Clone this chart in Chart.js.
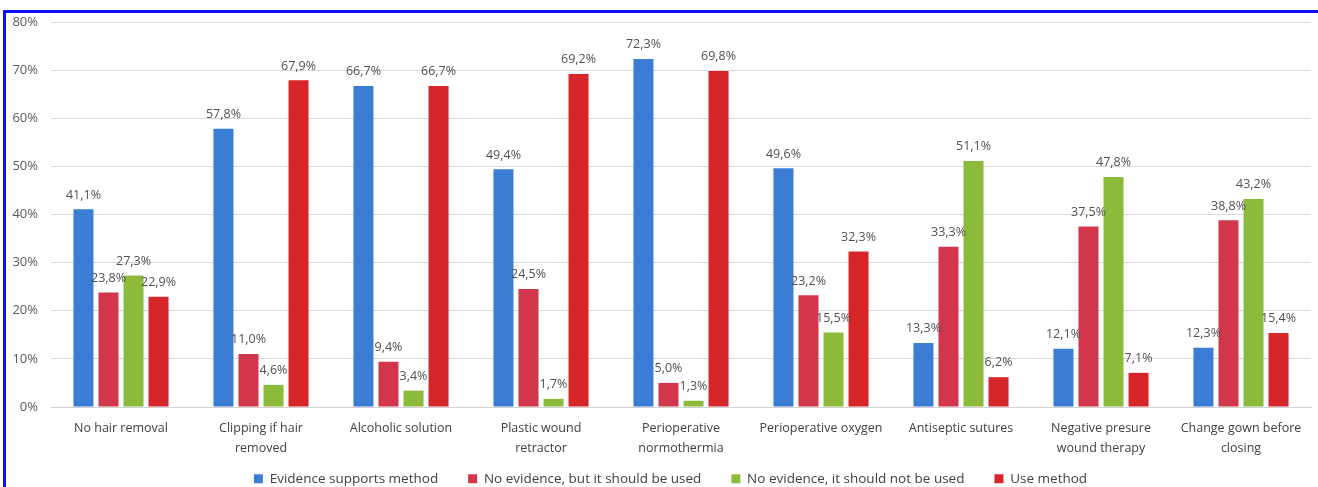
<!DOCTYPE html>
<html>
<head>
<meta charset="utf-8">
<script src="https://cdn.jsdelivr.net/npm/chart.js@4.4.0/dist/chart.umd.min.js"></script>
<style>
  html, body { margin: 0; padding: 0; background: #ffffff; }
  #frame { position: absolute; left: 3px; top: 10px; width: 1312px; height: 480px;
           border-left: 3px solid #1010ff; border-top: 3px solid #1010ff; border-right: 1px solid #b0b0ff; }
  #wrap { position: absolute; left: 0; top: 0; width: 1318px; height: 487px; }
</style>
</head>
<body>
<div id="frame"></div>
<div id="wrap"><canvas id="c" width="1318" height="487"></canvas></div>
<script>
const categories = [
  "No hair removal",
  ["Clipping if hair", "removed"],
  "Alcoholic solution",
  ["Plastic wound", "retractor"],
  ["Perioperative", "normothermia"],
  "Perioperative oxygen",
  "Antiseptic sutures",
  ["Negative presure", "wound therapy"],
  ["Change gown before", "closing"]
];
const seriesNames = [
  "Evidence supports method",
  "No evidence, but it should be used",
  "No evidence, it should not be used",
  "Use method"
];
const evidenceSupports = [41.1, 57.8, 66.7, 49.4, 72.3, 49.6, 13.3, 12.1, 12.3];
const noEvidenceUse = [23.8, 11.0, 9.4, 24.5, 5.0, 23.2, 33.3, 37.5, 38.8];
const noEvidenceNotUse = [27.3, 4.6, 3.4, 1.7, 1.3, 15.5, 51.1, 47.8, 43.2];
const useMethod = [22.9, 67.9, 66.7, 69.2, 69.8, 32.3, 6.2, 7.1, 15.4];
const yTicks = [0, 10, 20, 30, 40, 50, 60, 70, 80];

const colors = ["#3b7dd4", "#d2364b", "#8cbb3c", "#d6262a"];
const FONT = "'Open Sans', sans-serif";

const labelPlugin = {
  id: 'valueLabels',
  afterDatasetsDraw(chart) {
    const ctx = chart.ctx;
    ctx.save();
    ctx.font = "12.5px " + FONT;
    ctx.fillStyle = "#505050";
    ctx.textAlign = "center";
    ctx.textBaseline = "bottom";
    chart.data.datasets.forEach((ds, i) => {
      const meta = chart.getDatasetMeta(i);
      meta.data.forEach((bar, j) => {
        const v = ds.data[j];
        const txt = v.toFixed(1).replace('.', ',') + '%';
        ctx.fillText(txt, bar.x, bar.y - 8);
      });
    });
    ctx.restore();
  }
};

// Place the legend row near the bottom edge and a little right; let x labels extend.
const layoutTweak = {
  id: 'layoutTweak',
  afterLayout(chart) {
    const lg = chart.legend;
    if (lg) {
      const h = lg.bottom - lg.top;
      lg.top = 442; lg.bottom = 442 + h;
      lg.left += 15; lg.right += 15;
    }
    if (chart.scales.x) chart.scales.x.bottom = chart.height;
  }
};

new Chart(document.getElementById('c'), {
  type: 'bar',
  data: {
    labels: categories,
    datasets: [
      { label: seriesNames[0], data: evidenceSupports, backgroundColor: colors[0] },
      { label: seriesNames[1], data: noEvidenceUse, backgroundColor: colors[1] },
      { label: seriesNames[2], data: noEvidenceNotUse, backgroundColor: colors[2] },
      { label: seriesNames[3], data: useMethod, backgroundColor: colors[3] }
    ]
  },
  options: {
    responsive: false,
    animation: false,
    datasets: { bar: { categoryPercentage: 0.715, barPercentage: 0.8 } },
    layout: { padding: { left: 0, right: 7, top: 22, bottom: 0 } },
    plugins: {
      legend: {
        position: 'bottom',
        labels: {
          boxWidth: 9, boxHeight: 9, padding: 30,
          color: '#404040',
          font: { family: FONT, size: 13.5 }
        }
      },
      tooltip: { enabled: false }
    },
    scales: {
      x: {
        afterFit(axis) { axis.height = 26.5; },
        grid: { display: false, drawTicks: false },
        border: { display: true, color: '#d0d0d0' },
        ticks: { color: '#404040', font: { family: FONT, size: 12.5, lineHeight: 1.6 }, padding: 11, maxRotation: 0, autoSkip: false }
      },
      y: {
        min: 0, max: 80,
        afterBuildTicks(axis) { axis.ticks = yTicks.map(v => ({ value: v })); },
        afterFit(axis) { axis.width = 51; },
        grid: { color: '#d9d9d9', drawTicks: false, lineWidth: 1 },
        border: { display: false },
        ticks: { color: '#595959', font: { family: FONT, size: 13 }, padding: 13,
                 callback: v => v + '%' }
      }
    }
  },
  plugins: [labelPlugin, layoutTweak]
});
</script>
</body>
</html>
